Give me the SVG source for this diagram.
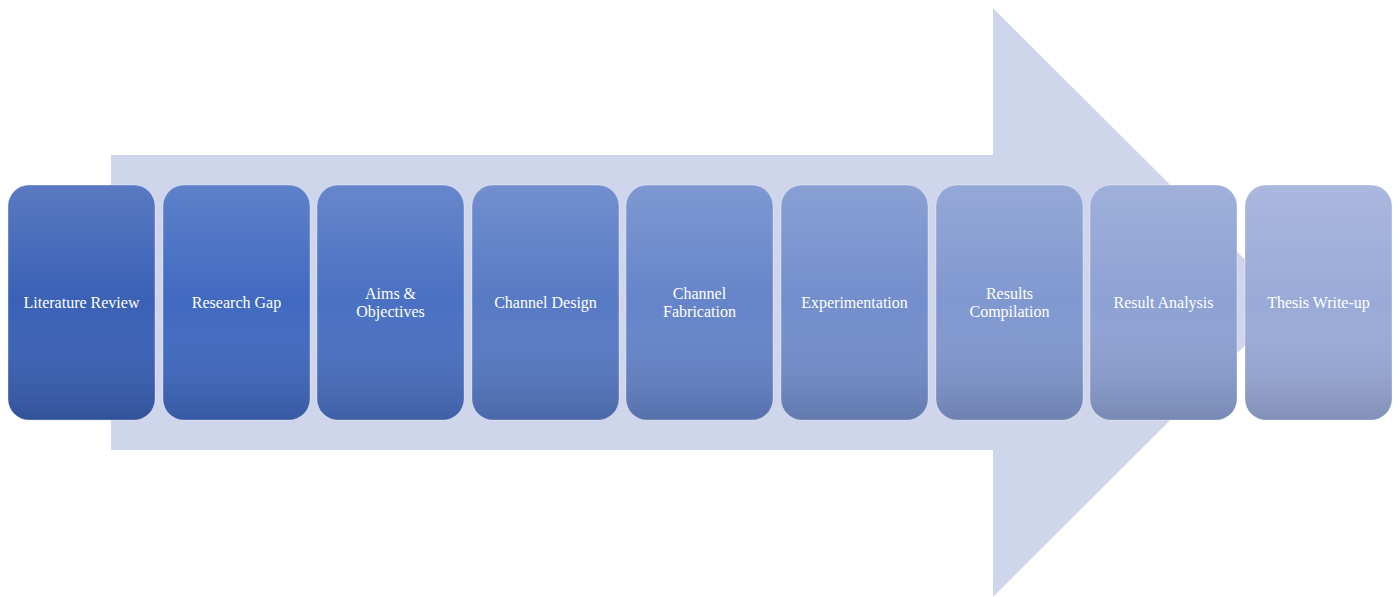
<svg xmlns="http://www.w3.org/2000/svg" width="1400" height="597" viewBox="0 0 1400 597">
<style>
.box{stroke:#ffffff;stroke-opacity:0.35;stroke-width:1}
.shade{fill:url(#shade)}
.lbl{font-family:"Liberation Serif","Times New Roman",serif;font-size:16px;fill:#ffffff;text-anchor:middle}
</style>
<defs>
<linearGradient id="shade" x1="0" y1="0" x2="0" y2="1">
<stop offset="0" stop-color="#ffffff" stop-opacity="0.16"/>
<stop offset="0.5" stop-color="#ffffff" stop-opacity="0"/>
<stop offset="1" stop-color="#000000" stop-opacity="0.15"/>
</linearGradient>
</defs>
<rect width="1400" height="597" fill="#ffffff"/>
<g id="arrow">
<polygon points="111,155 993,155 993,8 1288,302.5 993,597 993,450 111,450" fill="#cfd5eb"/>
</g>
<g id="connectors"></g>
<g id="n1"><rect class="box" x="8" y="185" width="147" height="235" rx="21" fill="#3a61b6"/><rect class="shade" x="8" y="185" width="147" height="235" rx="21"/><text class="lbl" x="81.5" y="307.5">Literature Review</text></g>
<g id="n2"><rect class="box" x="163" y="185" width="147" height="235" rx="21" fill="#4069c0"/><rect class="shade" x="163" y="185" width="147" height="235" rx="21"/><text class="lbl" x="236.5" y="307.5">Research Gap</text></g>
<g id="n3"><rect class="box" x="317" y="185" width="147" height="235" rx="21" fill="#4a70c2"/><rect class="shade" x="317" y="185" width="147" height="235" rx="21"/><text class="lbl" x="390.5" y="298.5">Aims &amp;</text><text class="lbl" x="390.5" y="316.5">Objectives</text></g>
<g id="n4"><rect class="box" x="472" y="185" width="147" height="235" rx="21" fill="#577ac5"/><rect class="shade" x="472" y="185" width="147" height="235" rx="21"/><text class="lbl" x="545.5" y="307.5">Channel Design</text></g>
<g id="n5"><rect class="box" x="626" y="185" width="147" height="235" rx="21" fill="#6584c9"/><rect class="shade" x="626" y="185" width="147" height="235" rx="21"/><text class="lbl" x="699.5" y="298.5">Channel</text><text class="lbl" x="699.5" y="316.5">Fabrication</text></g>
<g id="n6"><rect class="box" x="781" y="185" width="147" height="235" rx="21" fill="#738ecc"/><rect class="shade" x="781" y="185" width="147" height="235" rx="21"/><text class="lbl" x="854.5" y="307.5">Experimentation</text></g>
<g id="n7"><rect class="box" x="936" y="185" width="147" height="235" rx="21" fill="#8098d0"/><rect class="shade" x="936" y="185" width="147" height="235" rx="21"/><text class="lbl" x="1009.5" y="298.5">Results</text><text class="lbl" x="1009.5" y="316.5">Compilation</text></g>
<g id="n8"><rect class="box" x="1090" y="185" width="147" height="235" rx="21" fill="#8da1d4"/><rect class="shade" x="1090" y="185" width="147" height="235" rx="21"/><text class="lbl" x="1163.5" y="307.5">Result Analysis</text></g>
<g id="n9"><rect class="box" x="1245" y="185" width="147" height="235" rx="21" fill="#9aaad8"/><rect class="shade" x="1245" y="185" width="147" height="235" rx="21"/><text class="lbl" x="1318.5" y="307.5">Thesis Write-up</text></g>
</svg>
